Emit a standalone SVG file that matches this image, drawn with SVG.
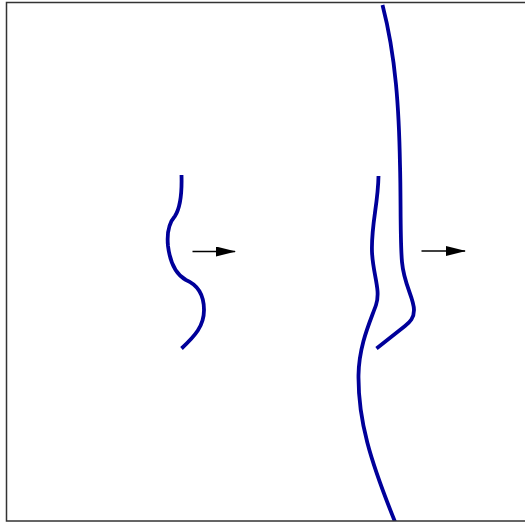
<svg xmlns="http://www.w3.org/2000/svg" width="525" height="523" viewBox="0 0 525 523">
<style>
.curve{fill:none;stroke:#00009a;stroke-width:3.8;stroke-linecap:butt;stroke-linejoin:round}
.arrow{fill:none;stroke:#000;stroke-width:1.3}
</style>
<defs>
<marker id="ah" markerWidth="20" markerHeight="10" refX="19" refY="5" orient="auto" markerUnits="userSpaceOnUse">
<path d="M0,0 L20,5 L0,10 Z" fill="#000"/>
</marker>
<clipPath id="frame"><rect x="6.5" y="2.5" width="520" height="518.5"/></clipPath>
</defs>
<rect x="0" y="0" width="525" height="523" fill="#fff"/>
<g id="connectors">
<line class="arrow" x1="192.5" y1="251.5" x2="235" y2="251.5" marker-end="url(#ah)"/>
<line class="arrow" x1="421.5" y1="251" x2="465" y2="251" marker-end="url(#ah)"/>
</g>
<g clip-path="url(#frame)">
<g id="curve-left">
<path class="curve" d="M181.5,175 C182,192 180,208 175,216 C168,224 167,236 168,246 C170,262 175,274 186,280 C198,285 204,296 204,310 C204,326 195,336 181.5,348.5"/>
</g>
<g id="curve-middle">
<path class="curve" d="M378.5,176 C378,205 371,225 372,252 C373,275 381,290 376,305 C370,322 359,345 358.5,375 C358,420 370,460 395.5,523"/>
</g>
<g id="curve-right">
<path class="curve" d="M382.5,5 C396,57 399,110 400,165 C401,200 400,240 402,262 C404,285 414,298 414,310 C414,318 410,322 405,326 L376.5,348.5"/>
</g>
</g>
<rect x="6.5" y="2.5" width="520" height="518.5" fill="none" stroke="#333" stroke-width="1.5"/>
</svg>
